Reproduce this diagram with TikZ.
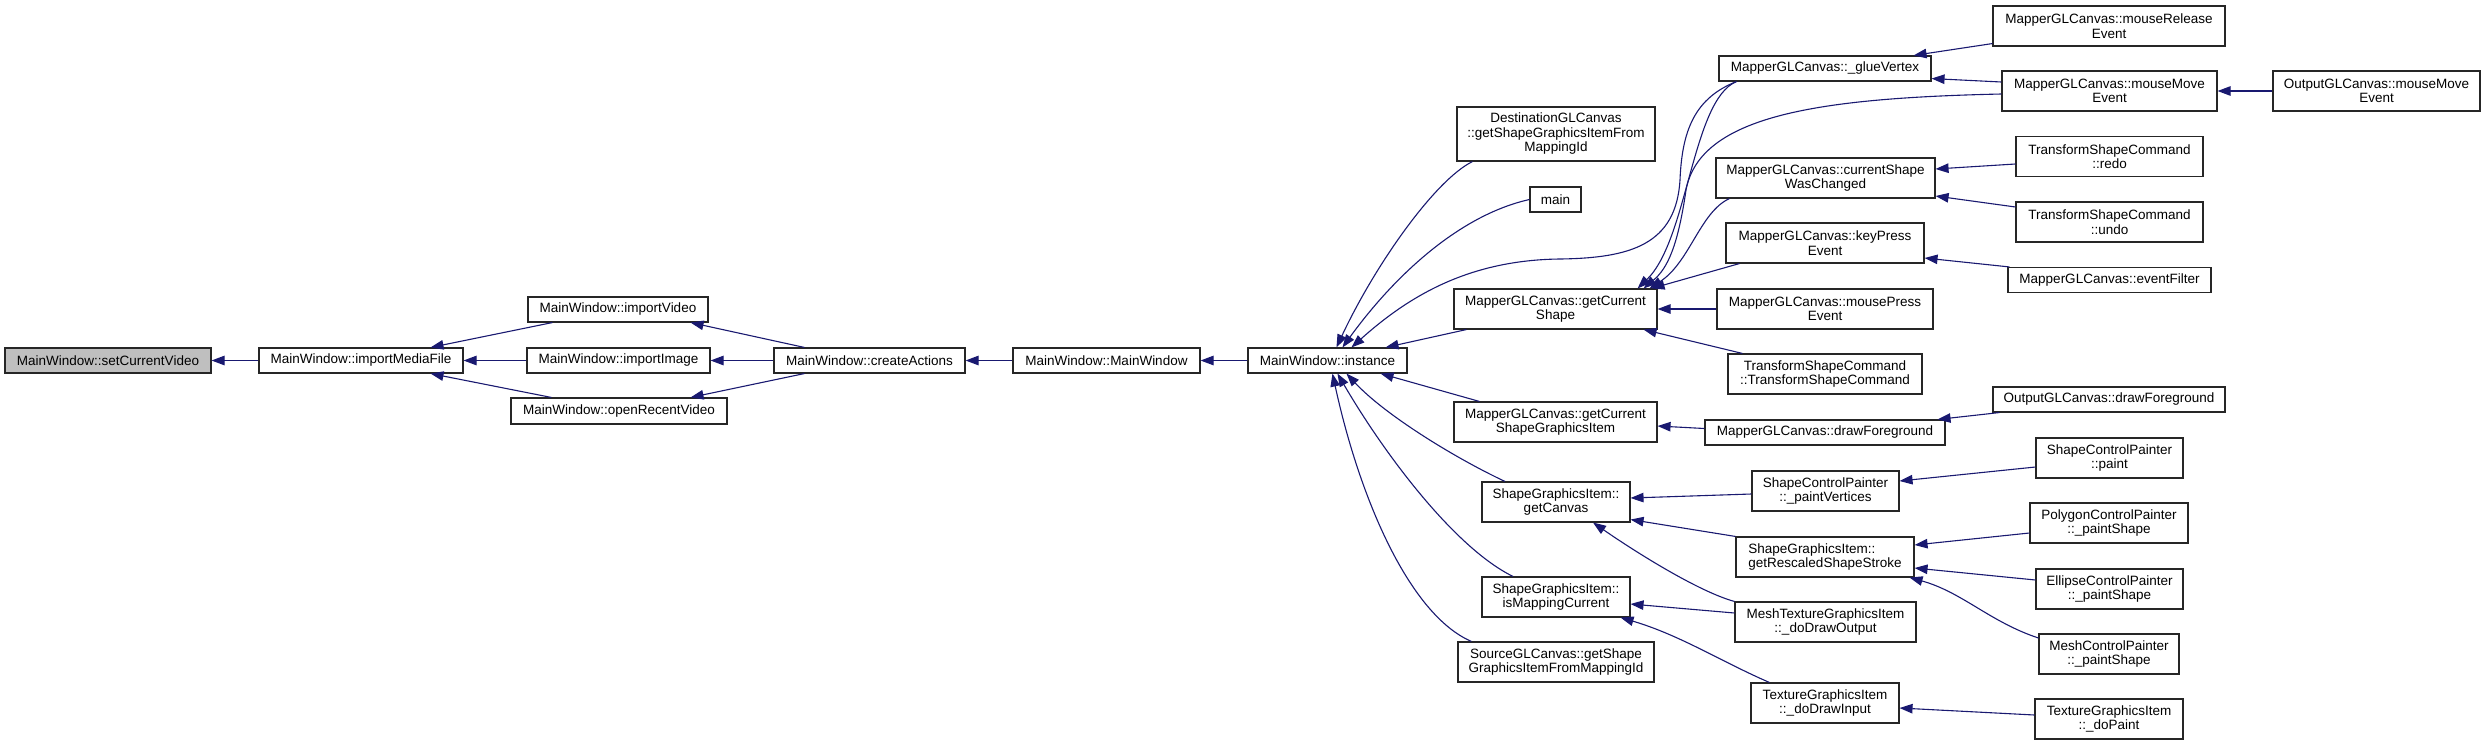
\documentclass[tikz,border=0pt]{standalone}
\usepackage{fontspec}
\setmainfont{Liberation Sans}
\usetikzlibrary{arrows.meta}
\definecolor{edgec}{HTML}{191970}
\definecolor{hilite}{HTML}{BFBFBF}
\tikzset{
  box/.style={draw=black!85, line width=1.1pt, fill=white, inner sep=0pt, align=center,
    font=\fontsize{13.5pt}{14.5pt}\selectfont, text=black},
  edge/.style={draw=edgec, line width=1.1pt, -{Triangle[length=13pt,width=9.5pt]}},
}
\newcommand\bx[6]{\node[box, minimum width=#4pt, minimum height=#5pt] (#1) at (#2,#3) {#6};}
\begin{document}
\begin{tikzpicture}[x=1pt,y=-1pt]
\useasboundingbox (0,0) rectangle (2485,745);
% column 0-1
\node[box, fill=hilite, minimum width=206pt, minimum height=25pt] (scv) at (108,360.5) {MainWindow::setCurrentVideo};
\bx{imf}{361}{360.5}{204}{25}{MainWindow::importMediaFile}
\bx{iv}{618}{309.5}{180}{25}{MainWindow::importVideo}
\bx{ii}{618.5}{360.5}{183}{25}{MainWindow::importImage}
\bx{orv}{619}{411}{216}{26}{MainWindow::openRecentVideo}
\bx{ca}{869.5}{360.5}{191}{25}{MainWindow::createActions}
\bx{mw}{1106.5}{360.5}{187}{25}{MainWindow::MainWindow}
\bx{inst}{1327.5}{360.5}{159}{25}{MainWindow::instance}
% column 4
\bx{dgl}{1556}{134}{198}{54}{DestinationGLCanvas\\::getShapeGraphicsItemFrom\\MappingId}
\bx{main}{1555.5}{199.5}{51}{25}{main}
\bx{gcs}{1555.5}{309}{203}{40}{MapperGLCanvas::getCurrent\\Shape}
\bx{gcsgi}{1555.5}{422}{203}{40}{MapperGLCanvas::getCurrent\\ShapeGraphicsItem}
\bx{gc}{1556}{502}{148}{40}{ShapeGraphicsItem::\\getCanvas}
\bx{imc}{1556}{597}{148}{40}{ShapeGraphicsItem::\\isMappingCurrent}
\bx{sgl}{1556}{662}{196}{40}{SourceGLCanvas::getShape\\GraphicsItemFromMappingId}
% column 5
\bx{gv}{1825}{68.5}{212}{25}{MapperGLCanvas::\_glueVertex}
\bx{cswc}{1825.5}{178}{219}{40}{MapperGLCanvas::currentShape\\WasChanged}
\bx{kpe}{1825}{243}{198}{40}{MapperGLCanvas::keyPress\\Event}
\bx{mpe}{1825}{309}{216}{40}{MapperGLCanvas::mousePress\\Event}
\bx{tsc}{1825}{374}{194}{40}{TransformShapeCommand\\::TransformShapeCommand}
\bx{mdf}{1825}{432.5}{240}{25}{MapperGLCanvas::drawForeground}
\bx{pv}{1825.5}{491}{147}{40}{ShapeControlPainter\\::\_paintVertices}
\node[box, align=left, minimum width=178pt, minimum height=40pt] (grss) at (1825,557) {ShapeGraphicsItem::\\getRescaledShapeStroke};
\bx{mdo}{1825.5}{622}{181}{40}{MeshTextureGraphicsItem\\::\_doDrawOutput}
\bx{tdi}{1825}{703}{148}{40}{TextureGraphicsItem\\::\_doDrawInput}
% column 6
\bx{mre}{2109}{26}{232}{40}{MapperGLCanvas::mouseRelease\\Event}
\bx{mme}{2109.5}{91}{215}{40}{MapperGLCanvas::mouseMove\\Event}
\bx{redo}{2109.5}{156.5}{187}{40}{TransformShapeCommand\\::redo}
\bx{undo}{2109.5}{222}{187}{40}{TransformShapeCommand\\::undo}
\bx{ef}{2109.5}{280}{203}{25}{MapperGLCanvas::eventFilter}
\bx{odf}{2109}{399.5}{232}{25}{OutputGLCanvas::drawForeground}
\bx{scp}{2109.5}{458}{147}{40}{ShapeControlPainter\\::paint}
\bx{pcp}{2109}{523}{158}{40}{PolygonControlPainter\\::\_paintShape}
\bx{ecp}{2109.5}{589}{147}{40}{EllipseControlPainter\\::\_paintShape}
\bx{mcp}{2109}{654}{140}{40}{MeshControlPainter\\::\_paintShape}
\bx{tdp}{2109}{719}{148}{40}{TextureGraphicsItem\\::\_doPaint}
% column 7
\bx{omme}{2376.5}{91}{207}{40}{OutputGLCanvas::mouseMove\\Event}

% ---- edges (caller -> callee, arrow at callee)
\draw[edge] (imf.west) -- (scv.east);
\draw[edge] ([xshift=25pt]iv.south west) -- ([xshift=-33pt]imf.north east);
\draw[edge] (ii.west) -- (imf.east);
\draw[edge] ([xshift=41pt]orv.north west) -- ([xshift=-33pt]imf.south east);
\draw[edge] ([xshift=31pt]ca.north west) -- ([xshift=-18pt]iv.south east);
\draw[edge] (ca.west) -- (ii.east);
\draw[edge] ([xshift=31pt]ca.south west) -- ([xshift=-37pt]orv.north east);
\draw[edge] (mw.west) -- (ca.east);
\draw[edge] (inst.west) -- (mw.east);

% callers of instance
\draw[edge] ([xshift=16pt]dgl.south west) .. controls (1435,180) and (1375,265) .. ([xshift=89pt]inst.north west);
\draw[edge] (main.west) .. controls (1460,215) and (1395,275) .. ([xshift=95pt]inst.north west);
\draw[edge] ([xshift=18pt]gv.south west) .. controls (1695,98) and (1682,130) .. (1680,180)
   .. controls (1676,245) and (1630,258) .. (1560,259)
   .. controls (1470,260) and (1410,295) .. ([xshift=104pt]inst.north west);
\draw[edge] ([xshift=13pt]gcs.south west) -- ([xshift=-22pt]inst.north east);
\draw[edge] ([xshift=26pt]gcsgi.north west) -- ([xshift=-27pt]inst.south east);
\draw[edge] ([xshift=-51pt]gc.north) .. controls (1455,458) and (1385,415) .. ([xshift=99pt]inst.south west);
\draw[edge] ([xshift=-43pt]imc.north) .. controls (1455,548) and (1385,455) .. ([xshift=90pt]inst.south west);
\draw[edge] ([xshift=14pt]sgl.north west) .. controls (1410,615) and (1360,500) .. ([xshift=85pt]inst.south west);

% callers of getCurrentShape
\draw[edge] ([xshift=18pt]gv.south west) .. controls (1692,100) and (1688,240) .. ([xshift=-20pt]gcs.north east);
\draw[edge] ([yshift=-3pt]mme.west) .. controls (1820,98) and (1700,115) .. (1686,190)
   .. controls (1678,245) and (1668,268) .. ([xshift=-14pt]gcs.north east);
\draw[edge] ([xshift=14pt]cswc.south west) .. controls (1700,212) and (1690,262) .. ([xshift=-8pt]gcs.north east);
\draw[edge] ([xshift=14pt]kpe.south west) -- ([xshift=-6pt]gcs.north east);
\draw[edge] (mpe.west) -- (gcs.east);
\draw[edge] ([xshift=15pt]tsc.north west) -- ([xshift=-14pt]gcs.south east);

% right-hand edges
\draw[edge] ([yshift=3pt]mre.south west) -- ([xshift=-18pt]gv.north east);
\draw[edge] ([yshift=9pt]mme.west) -- ([yshift=3pt]gv.south east);
\draw[edge] (omme.west) -- (mme.east);
\draw[edge] ([yshift=-7.5pt]redo.west) -- ([yshift=9pt]cswc.east);
\draw[edge] ([yshift=15pt]undo.west) -- ([yshift=-18pt]cswc.east);
\draw[edge] ([xshift=2pt]ef.north west) -- ([yshift=-15pt]kpe.east);
\draw[edge] ([xshift=7pt]odf.south west) -- ([xshift=-8pt]mdf.north east);
\draw[edge] ([yshift=4pt]mdf.west) -- ([yshift=-4pt]gcsgi.east);
\draw[edge] ([yshift=-9pt]scp.west) -- ([yshift=10pt]pv.east);
\draw[edge] ([yshift=-10pt]pcp.west) -- ([yshift=12pt]grss.east);
\draw[edge] ([yshift=9pt]ecp.west) -- ([yshift=-11pt]grss.east);
\draw[edge] ([yshift=16pt]mcp.west) .. controls (1990,622) and (1962,592) .. ([xshift=-5pt]grss.south east);
\draw[edge] ([yshift=4pt]tdp.west) -- ([yshift=-5pt]tdi.east);
\draw[edge] ([yshift=-3pt]pv.west) -- ([yshift=4pt]gc.east);
\draw[edge] (grss.north west) -- ([yshift=3pt]gc.south east);
\draw[edge] (mdo.north west) .. controls (1700,592) and (1640,555) .. ([xshift=37pt]gc.south);
\draw[edge] ([yshift=9pt]mdo.west) -- ([yshift=-7pt]imc.east);
\draw[edge] ([xshift=19pt]tdi.north west) .. controls (1722,662) and (1680,635) .. ([xshift=-10pt]imc.south east);
\end{tikzpicture}
\end{document}
